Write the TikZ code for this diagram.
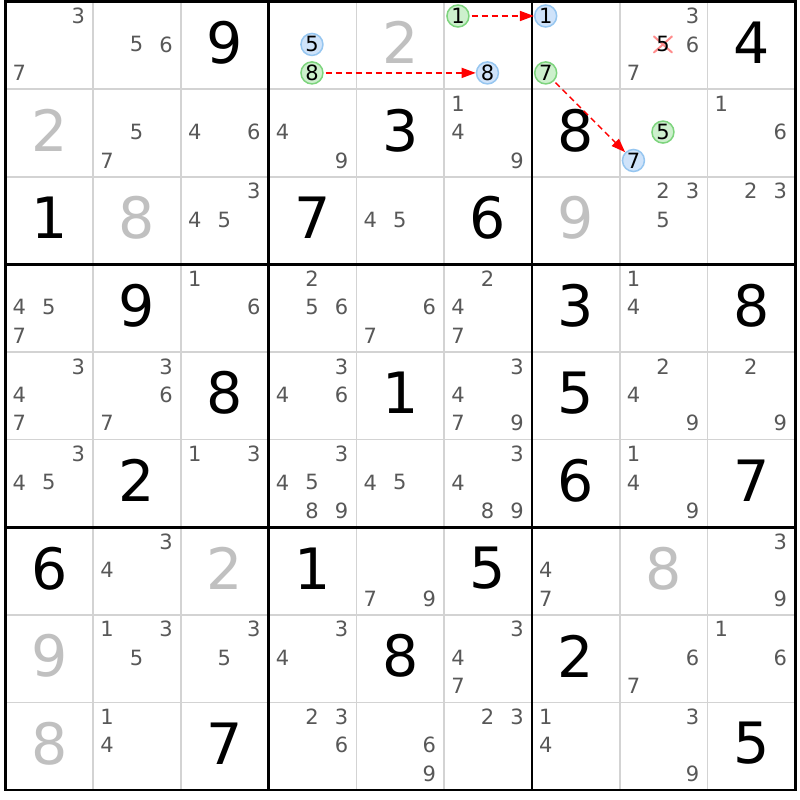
\documentclass[tikz,border=0pt]{standalone}
\usepackage{fontspec}
\setmainfont{DejaVu Sans}
\usetikzlibrary{arrows.meta,calc}
\definecolor{candgray}{RGB}{88,88,88}
\definecolor{solvedgray}{RGB}{192,192,192}
\definecolor{thingrid}{RGB}{211,211,211}
\definecolor{bluefill}{RGB}{207,227,250}
\definecolor{blueline}{RGB}{150,198,240}
\definecolor{greenfill}{RGB}{205,240,205}
\definecolor{greenline}{RGB}{125,212,125}
\definecolor{crossred}{RGB}{255,140,140}
\newcommand\gx{5.5}
\newcommand\gy{1.5}
\newcommand\gridcw{87.75}
\newcommand\gridch{87.6}
% sub-cell position of candidate #3 in row #1, column #2
\newcommand\subpos[3]{%
  \pgfmathsetmacro\px{\gx+(#2-1)*\gridcw+13.7+29.5*mod(#3-1,3)}%
  \pgfmathsetmacro\py{\gy+(#1-1)*\gridch+14.5+28.45*floor((#3-0.5)/3)}}
\newcommand\cands[3]{%
  \foreach \d in {#3} {\subpos{#1}{#2}{\d}\node[cand] (c-#1-#2-\d) at (\px,\py) {\d};}}
\newcommand\ring[4]{% style,row,col,digit
  \subpos{#2}{#3}{#4}\node[#1] (r-#2-#3-#4) at (\px,\py) {#4};}
\newcommand\bigdig[4]{% style,row,col,digit
  \node[#1] (g-#2-#3) at ({\gx+(#3-0.5)*\gridcw},{\gy+(#2-0.5)*\gridch-2.6}) {#4};}
\tikzset{
  cand/.style={font=\fontsize{21}{21}\selectfont, text=candgray, inner sep=0pt},
  givendigit/.style={font=\fontsize{57}{57}\selectfont, text=black, inner sep=0pt},
  placeddigit/.style={givendigit, text=solvedgray},
  ringbase/.style={circle, line width=1.5pt, minimum size=22pt, inner sep=0pt,
    font=\fontsize{21}{21}\selectfont, text=black},
  bluering/.style={ringbase, draw=blueline, fill=bluefill},
  greenring/.style={ringbase, draw=greenline, fill=greenfill},
  thingridline/.style={draw=thingrid, line width=1.6pt},
  thickgridline/.style={draw=black, line width=2.8pt, line cap=rect},
  link/.style={draw=red, line width=1.5pt, dash pattern=on 6pt off 4pt,
    -{Triangle[length=14pt,width=10pt]}, shorten <=2pt},
  crossmark/.style={draw=crossred, line width=2pt, line cap=round}
}
\begin{document}
\begin{tikzpicture}[x=1pt,y=-1pt]
\useasboundingbox (0,0) rectangle (800,800);
\fill[white] (0,0) rectangle (800,800);
% grid
\foreach \i in {1,2,4,5,7,8} {
  \draw[thingridline] ({\gx+\i*\gridcw},\gy) -- ({\gx+\i*\gridcw},{\gy+9*\gridch});
  \draw[thingridline] (\gx,{\gy+\i*\gridch}) -- ({\gx+9*\gridcw},{\gy+\i*\gridch});
}
\foreach \i in {3,6} {
  \draw[thickgridline] ({\gx+\i*\gridcw},\gy) -- ({\gx+\i*\gridcw},{\gy+9*\gridch});
  \draw[thickgridline] (\gx,{\gy+\i*\gridch}) -- ({\gx+9*\gridcw},{\gy+\i*\gridch});
}
\draw[thickgridline] (\gx,\gy) rectangle ({\gx+9*\gridcw},{\gy+9*\gridch});
% row 1
\cands{1}{1}{3,7}
\cands{1}{2}{5,6}
\bigdig{givendigit}{1}{3}{9}
\ring{bluering}{1}{4}{5}
\ring{greenring}{1}{4}{8}
\bigdig{placeddigit}{1}{5}{2}
\ring{greenring}{1}{6}{1}
\ring{bluering}{1}{6}{8}
\ring{bluering}{1}{7}{1}
\ring{greenring}{1}{7}{7}
\cands{1}{8}{3,6,7}
\subpos{1}{8}{5}
\coordinate (x-1-8) at (\px,\py);
\draw[crossmark] ($(x-1-8)+(-9,-8)$) -- ($(x-1-8)+(9,8)$);
\draw[crossmark] ($(x-1-8)+(-9,8)$) -- ($(x-1-8)+(9,-8)$);
\node[cand, text=black] (c-1-8-5) at (x-1-8) {5};
\bigdig{givendigit}{1}{9}{4}
% row 2
\bigdig{placeddigit}{2}{1}{2}
\cands{2}{2}{5,7}
\cands{2}{3}{4,6}
\cands{2}{4}{4,9}
\bigdig{givendigit}{2}{5}{3}
\cands{2}{6}{1,4,9}
\bigdig{givendigit}{2}{7}{8}
\ring{greenring}{2}{8}{5}
\ring{bluering}{2}{8}{7}
\cands{2}{9}{1,6}
% row 3
\bigdig{givendigit}{3}{1}{1}
\bigdig{placeddigit}{3}{2}{8}
\cands{3}{3}{3,4,5}
\bigdig{givendigit}{3}{4}{7}
\cands{3}{5}{4,5}
\bigdig{givendigit}{3}{6}{6}
\bigdig{placeddigit}{3}{7}{9}
\cands{3}{8}{2,3,5}
\cands{3}{9}{2,3}
% row 4
\cands{4}{1}{4,5,7}
\bigdig{givendigit}{4}{2}{9}
\cands{4}{3}{1,6}
\cands{4}{4}{2,5,6}
\cands{4}{5}{6,7}
\cands{4}{6}{2,4,7}
\bigdig{givendigit}{4}{7}{3}
\cands{4}{8}{1,4}
\bigdig{givendigit}{4}{9}{8}
% row 5
\cands{5}{1}{3,4,7}
\cands{5}{2}{3,6,7}
\bigdig{givendigit}{5}{3}{8}
\cands{5}{4}{3,4,6}
\bigdig{givendigit}{5}{5}{1}
\cands{5}{6}{3,4,7,9}
\bigdig{givendigit}{5}{7}{5}
\cands{5}{8}{2,4,9}
\cands{5}{9}{2,9}
% row 6
\cands{6}{1}{3,4,5}
\bigdig{givendigit}{6}{2}{2}
\cands{6}{3}{1,3}
\cands{6}{4}{3,4,5,8,9}
\cands{6}{5}{4,5}
\cands{6}{6}{3,4,8,9}
\bigdig{givendigit}{6}{7}{6}
\cands{6}{8}{1,4,9}
\bigdig{givendigit}{6}{9}{7}
% row 7
\bigdig{givendigit}{7}{1}{6}
\cands{7}{2}{3,4}
\bigdig{placeddigit}{7}{3}{2}
\bigdig{givendigit}{7}{4}{1}
\cands{7}{5}{7,9}
\bigdig{givendigit}{7}{6}{5}
\cands{7}{7}{4,7}
\bigdig{placeddigit}{7}{8}{8}
\cands{7}{9}{3,9}
% row 8
\bigdig{placeddigit}{8}{1}{9}
\cands{8}{2}{1,3,5}
\cands{8}{3}{3,5}
\cands{8}{4}{3,4}
\bigdig{givendigit}{8}{5}{8}
\cands{8}{6}{3,4,7}
\bigdig{givendigit}{8}{7}{2}
\cands{8}{8}{6,7}
\cands{8}{9}{1,6}
% row 9
\bigdig{placeddigit}{9}{1}{8}
\cands{9}{2}{1,4}
\bigdig{givendigit}{9}{3}{7}
\cands{9}{4}{2,3,6}
\cands{9}{5}{6,9}
\cands{9}{6}{2,3}
\cands{9}{7}{1,4}
\cands{9}{8}{3,9}
\bigdig{givendigit}{9}{9}{5}
% links
\draw[link] (r-1-4-8) -- (r-1-6-8);
\draw[link] (r-1-6-1) -- (r-1-7-1);
\draw[link] (r-1-7-7) -- (r-2-8-7);
\end{tikzpicture}
\end{document}
